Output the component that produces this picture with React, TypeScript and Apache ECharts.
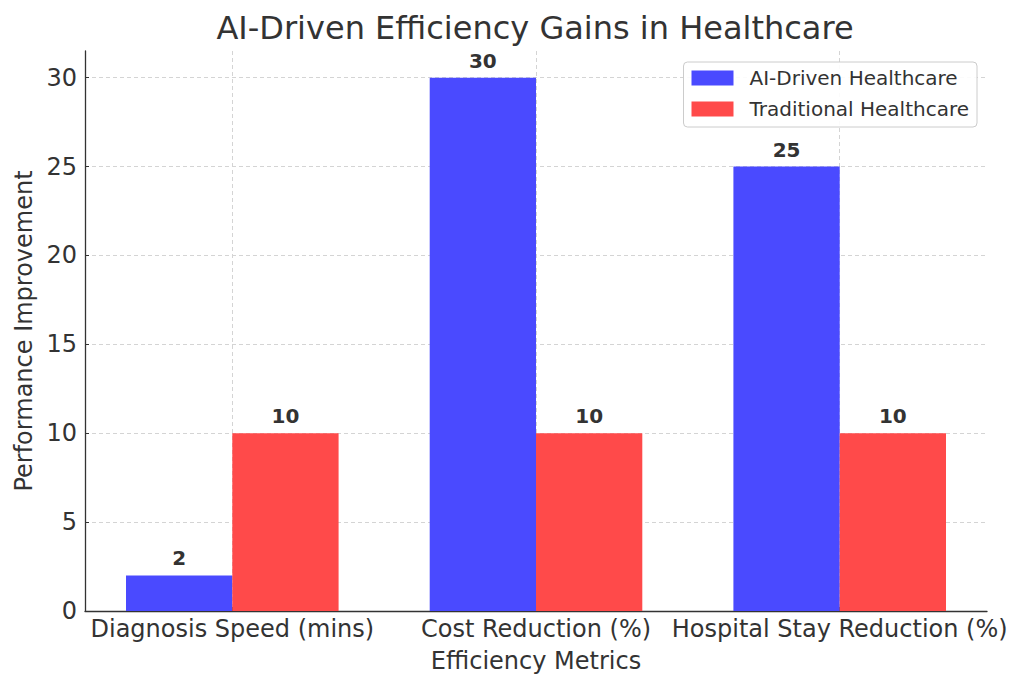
import React, { useEffect, useRef } from "react";
import * as echarts from "echarts";

const categories = ["Diagnosis Speed (mins)", "Cost Reduction (%)", "Hospital Stay Reduction (%)"];
const aiValues = [2, 30, 25];
const tradValues = [10, 10, 10];
const yTicks = [0, 5, 10, 15, 20, 25, 30];
const xTicks = [0, 1, 2];
const seriesNames = ["AI-Driven Healthcare", "Traditional Healthcare"];

const FONT = "DejaVu Sans";
const TEXT = "#333333";
const BLUE = "#4a4aff";
const RED = "#ff4a4a";
const BAR_W = 0.35;

function makeRender(offset: number, color: string) {
  return (params: any, api: any) => {
    const x = api.value(0);
    const v = api.value(1);
    const p0 = api.coord([x + offset - BAR_W / 2, v]);
    const p1 = api.coord([x + offset + BAR_W / 2, 0]);
    return {
      type: "group",
      children: [
        {
          type: "rect",
          shape: { x: p0[0], y: p0[1], width: p1[0] - p0[0], height: p1[1] - p0[1] },
          style: { fill: color },
        },
        {
          type: "text",
          x: (p0[0] + p1[0]) / 2,
          y: p0[1] - 7,
          style: {
            text: String(v),
            textAlign: "center",
            textVerticalAlign: "bottom",
            fontSize: 20,
            fontWeight: "bold",
            fontFamily: FONT,
            fill: TEXT,
          },
        },
      ],
    };
  };
}

export default function App() {
  const ref = useRef<HTMLDivElement>(null);
  useEffect(() => {
    document.body.style.margin = "0";
    const chart = echarts.init(ref.current!, null, { renderer: "svg" });
    const gridLine = { show: true, lineStyle: { color: "#d4d4d4", type: [4, 3], width: 1 } };
    chart.setOption({
      animation: false,
      backgroundColor: "#ffffff",
      textStyle: { fontFamily: FONT },
      grid: { left: 85, right: 37, top: 51, bottom: 78, containLabel: false },
      graphic: [
        {
          type: "text",
          x: 535,
          y: 28,
          style: {
            text: "AI-Driven Efficiency Gains in Healthcare",
            textAlign: "center",
            textVerticalAlign: "middle",
            fontSize: 32,
            fontFamily: FONT,
            fill: TEXT,
          },
        },
      ],
      legend: {
        data: seriesNames,
        orient: "vertical",
        right: 47,
        top: 62,
        itemWidth: 42,
        itemHeight: 15,
        itemGap: 11,
        icon: "rect",
        padding: [6, 8, 8, 8],
        borderColor: "#cccccc",
        borderWidth: 1,
        borderRadius: 4,
        backgroundColor: "rgba(255,255,255,0.9)",
        textStyle: { fontSize: 20, color: TEXT, fontFamily: FONT, padding: [0, 0, 0, 11] },
      },
      xAxis: {
        type: "value",
        min: -0.485,
        max: 2.485,
        name: "Efficiency Metrics",
        nameLocation: "middle",
        nameGap: 38,
        nameTextStyle: { fontSize: 24, color: TEXT, fontFamily: FONT },
        axisLine: { show: true, onZero: false, lineStyle: { color: TEXT, width: 1.3 } },
        axisTick: { show: true, inside: true, length: 4, customValues: xTicks, lineStyle: { color: TEXT } },
        axisLabel: {
          customValues: xTicks,
          formatter: (v: number) => categories[Math.round(v)] ?? "",
          fontSize: 24,
          color: TEXT,
          fontFamily: FONT,
          margin: 6,
        },
        splitLine: gridLine,
      },
      yAxis: {
        type: "value",
        min: 0,
        max: 31.5,
        name: "Performance Improvement",
        nameLocation: "middle",
        nameGap: 44,
        nameTextStyle: { fontSize: 24, color: TEXT, fontFamily: FONT },
        axisLine: { show: true, onZero: false, lineStyle: { color: TEXT, width: 1.3 } },
        axisTick: { show: true, inside: true, length: 4, customValues: yTicks, lineStyle: { color: TEXT } },
        axisLabel: {
          customValues: yTicks,
          fontSize: 24,
          color: TEXT,
          fontFamily: FONT,
          margin: 8,
        },
        splitLine: gridLine,
      },
      series: [
        {
          name: seriesNames[0],
          type: "custom",
          itemStyle: { color: BLUE },
          renderItem: makeRender(-BAR_W / 2, BLUE),
          data: categories.map((c, i) => [i, aiValues[i]]),
          encode: { x: 0, y: 1 },
        },
        {
          name: seriesNames[1],
          type: "custom",
          itemStyle: { color: RED },
          renderItem: makeRender(BAR_W / 2, RED),
          data: categories.map((c, i) => [i, tradValues[i]]),
          encode: { x: 0, y: 1 },
        },
      ],
    });
    return () => chart.dispose();
  }, []);
  return <div ref={ref} style={{ width: 1024, height: 689 }} />;
}
